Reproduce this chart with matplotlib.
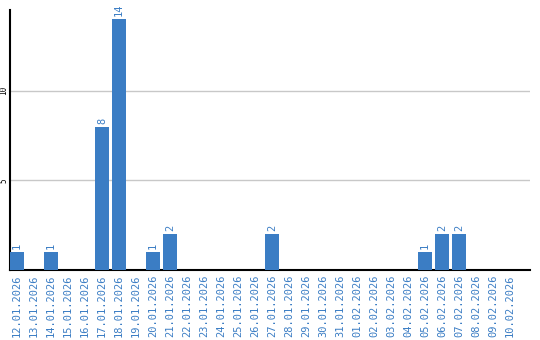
import matplotlib
matplotlib.use('Agg')
import matplotlib.pyplot as plt
import numpy as np

dates = ['12.01.2026', '13.01.2026', '14.01.2026', '15.01.2026', '16.01.2026',
         '17.01.2026', '18.01.2026', '19.01.2026', '20.01.2026', '21.01.2026',
         '22.01.2026', '23.01.2026', '24.01.2026', '25.01.2026', '26.01.2026',
         '27.01.2026', '28.01.2026', '29.01.2026', '30.01.2026', '31.01.2026',
         '01.02.2026', '02.02.2026', '03.02.2026', '04.02.2026', '05.02.2026',
         '06.02.2026', '07.02.2026', '08.02.2026', '09.02.2026', '10.02.2026']
counts = [1, 0, 1, 0, 0, 8, 14, 0, 1, 2,
          0, 0, 0, 0, 0, 2, 0, 0, 0, 0,
          0, 0, 0, 0, 1, 2, 2, 0, 0, 0]

blue = '#3b7dc4'

fig = plt.figure(figsize=(5.4, 3.4), dpi=100)
ax = fig.add_axes([10/540, 1-270/340, 520/540, 260/340])

x = np.arange(len(dates))
ax.bar(x, counts, width=0.82, color=blue, zorder=3)
for xi, v in zip(x, counts):
    if v > 0:
        ax.text(xi, v + 0.15, str(v), rotation=90, ha='center', va='bottom',
                color=blue, fontsize=7.5, family='DejaVu Sans Mono')

ax.set_xlim(-0.41, -0.41 + 520/17)
ax.set_ylim(0, 14.5)
ax.set_yticks([5, 10])
ax.set_yticklabels(['5', '10'], rotation=90, va='center', fontsize=5.5,
                   family='DejaVu Sans Mono')
ax.set_xticks(x)
ax.set_xticklabels(dates, rotation=90, color=blue, fontsize=7.5,
                   family='DejaVu Sans Mono')
ax.tick_params(axis='x', length=0, pad=3)
ax.tick_params(axis='y', length=0, pad=1)
ax.yaxis.grid(True, color='#c8c8c8', linewidth=1, zorder=0)

for s in ['top', 'right']:
    ax.spines[s].set_visible(False)
ax.spines['left'].set_linewidth(1.5)
ax.spines['bottom'].set_linewidth(1.5)

fig.savefig('out.png', dpi=100)
